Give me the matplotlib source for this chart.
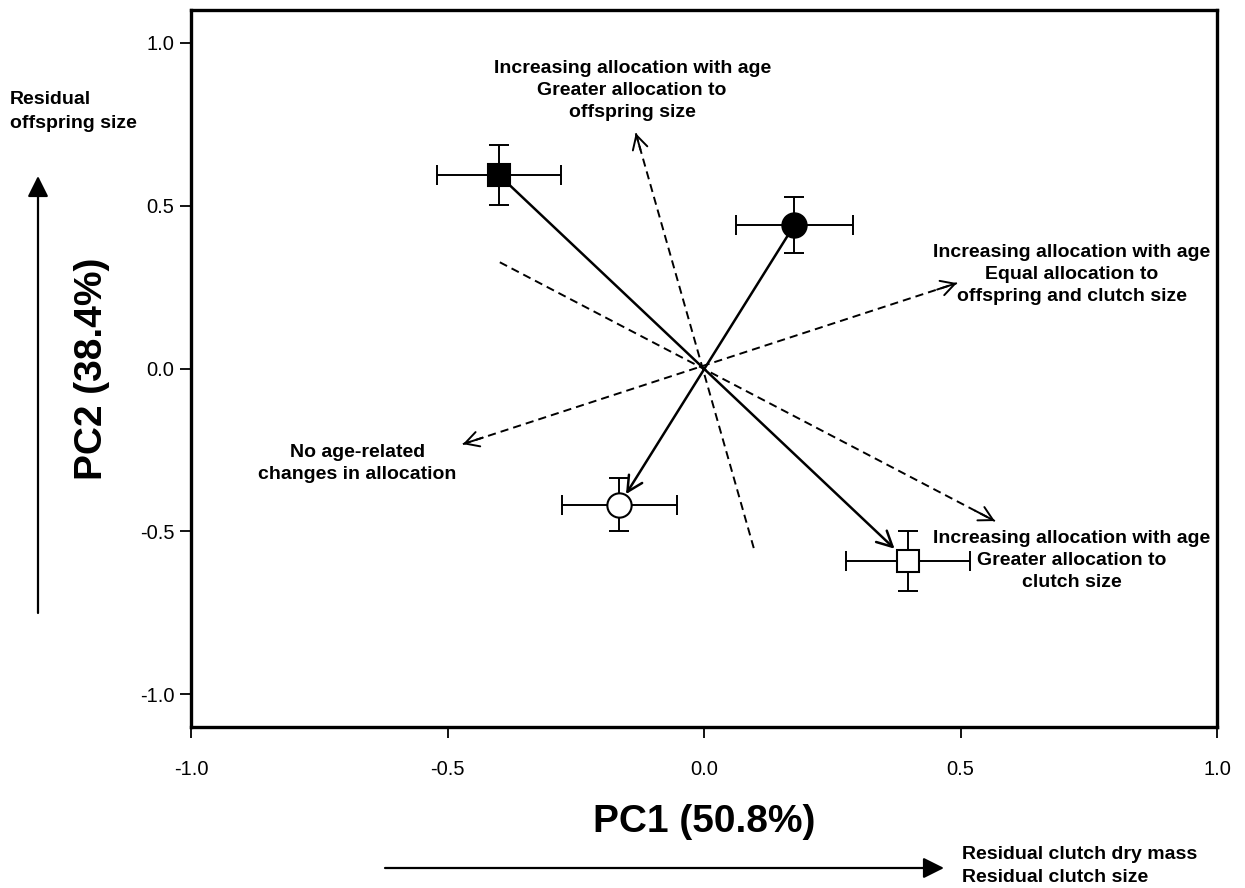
import matplotlib
matplotlib.use("Agg")
import matplotlib.pyplot as plt
import numpy as np

plt.rcParams["font.family"] = ["Liberation Sans", "DejaVu Sans"]
plt.rcParams["axes.unicode_minus"] = False

# Group centroids on the first two principal components (mean +/- SE)
pc1_mean = [-0.400, 0.176, -0.165, 0.397]
pc2_mean = [0.594, 0.440, -0.418, -0.591]
pc1_se = [0.121, 0.114, 0.112, 0.121]
pc2_se = [0.091, 0.085, 0.081, 0.091]
markers = ["s", "o", "o", "s"]
filled = [True, True, False, False]

# Age trajectories: from group index -> to group index
trajectories = [(0, 3), (1, 2)]

# Reference directions of allocation change (start, end)
ref_start = [(0.097, -0.551), (-0.398, 0.326), (-0.470, -0.232)]
ref_end = [(-0.133, 0.722), (0.567, -0.468), (0.493, 0.262)]
ref_heads = ["end", "end", "both"]

ticks = [-1.0, -0.5, 0.0, 0.5, 1.0]
tick_labels = ["-1.0", "-0.5", "0.0", "0.5", "1.0"]

notes = [
    ("Increasing allocation with age\nGreater allocation to\noffspring size", -0.14, 0.852),
    ("Increasing allocation with age\nEqual allocation to\noffspring and clutch size", 0.717, 0.289),
    ("No age-related\nchanges in allocation", -0.676, -0.292),
    ("Increasing allocation with age\nGreater allocation to\nclutch size", 0.717, -0.588),
]

W, H = 1245, 888
fig = plt.figure(figsize=(W / 100, H / 100), dpi=100)
ax = fig.add_axes([191 / W, 1 - 727 / H, 1026 / W, 717 / H])
ax.set_xlim(-1.0, 1.0)
ax.set_ylim(-1.1, 1.1)

# Dashed reference directions
for (x0, y0), (x1, y1), heads in zip(ref_start, ref_end, ref_heads):
    ax.plot([x0, x1], [y0, y1], color="black", lw=1.4,
            linestyle=(0, (4.2, 2.6)), zorder=1)
    ends = [((x1, y1), (x0, y0))]
    if heads == "both":
        ends.append(((x0, y0), (x1, y1)))
    for (tx, ty), (bx, by) in ends:
        back = (tx + 0.04 * (bx - tx), ty + 0.04 * (by - ty))
        ax.annotate("", xy=(tx, ty), xytext=back,
                    arrowprops=dict(arrowstyle="->,head_length=0.55,head_width=0.3",
                                    mutation_scale=18, lw=1.4, color="black",
                                    shrinkA=0, shrinkB=0),
                    zorder=1)

# Age trajectories (solid arrows)
for (i, j), shrink in zip(trajectories, [13, 9]):
    ax.annotate("", xy=(pc1_mean[j], pc2_mean[j]),
                xytext=(pc1_mean[i], pc2_mean[i]),
                arrowprops=dict(arrowstyle="->,head_length=0.55,head_width=0.28",
                                mutation_scale=20, lw=1.8, color="black",
                                shrinkA=0, shrinkB=shrink),
                zorder=2)

# Group means with error bars
for x, y, ex, ey, m, f in zip(pc1_mean, pc2_mean, pc1_se, pc2_se, markers, filled):
    ax.errorbar(x, y, xerr=ex, yerr=ey, fmt="none", ecolor="black",
                elinewidth=1.4, capsize=7.5, capthick=1.4, zorder=3)
    ax.plot(x, y, marker=m, linestyle="none",
            markersize=16 if m == "s" else 17.5,
            markerfacecolor="black" if f else "white",
            markeredgecolor="black", markeredgewidth=1.5, zorder=4)

# Annotations of the reference directions
for text, x, y in notes:
    ax.text(x, y, text, ha="center", va="center", multialignment="center",
            fontsize=14, fontweight="bold", linespacing=1.38, zorder=5)

# Axes styling
ax.set_xticks(ticks)
ax.set_xticklabels(tick_labels)
ax.set_yticks(ticks)
ax.set_yticklabels(tick_labels)
ax.tick_params(axis="both", direction="out", length=8, width=1.3, labelsize=14.5)
ax.tick_params(axis="x", pad=16)
ax.tick_params(axis="y", pad=4)
for side in ["left", "bottom", "top", "right"]:
    ax.spines[side].set_linewidth(2.4)

ax.set_xlabel("PC1 (50.8%)", fontsize=28, fontweight="bold")
ax.xaxis.set_label_coords(0.5, -0.1325)
ax.xaxis.label.set_va("center")
ax.set_ylabel("PC2 (38.4%)", fontsize=28, fontweight="bold")
ax.yaxis.set_label_coords(-0.0965, 0.5)
ax.yaxis.label.set_va("center")

# Trait direction arrows outside the plot
fig.text(10 / W, 1 - 111.5 / H, "Residual\noffspring size", ha="left", va="center",
         fontsize=14, fontweight="bold", linespacing=1.55)
fig.text(962 / W, 1 - 866 / H, "Residual clutch dry mass\nResidual clutch size",
         ha="left", va="center", fontsize=14, fontweight="bold", linespacing=1.5)
fig.add_artist(matplotlib.patches.FancyArrowPatch(
    (38 / W, 1 - 613 / H), (38 / W, 1 - 176 / H), transform=fig.transFigure,
    arrowstyle="-|>,head_length=0.7,head_width=0.35", mutation_scale=18,
    lw=1.6, color="black", shrinkA=0, shrinkB=0))
fig.add_artist(matplotlib.patches.FancyArrowPatch(
    (385 / W, 1 - 868 / H), (944 / W, 1 - 868 / H), transform=fig.transFigure,
    arrowstyle="-|>,head_length=0.7,head_width=0.35", mutation_scale=18,
    lw=1.6, color="black", shrinkA=0, shrinkB=0))

fig.savefig("out.png", dpi=100, facecolor="white")
